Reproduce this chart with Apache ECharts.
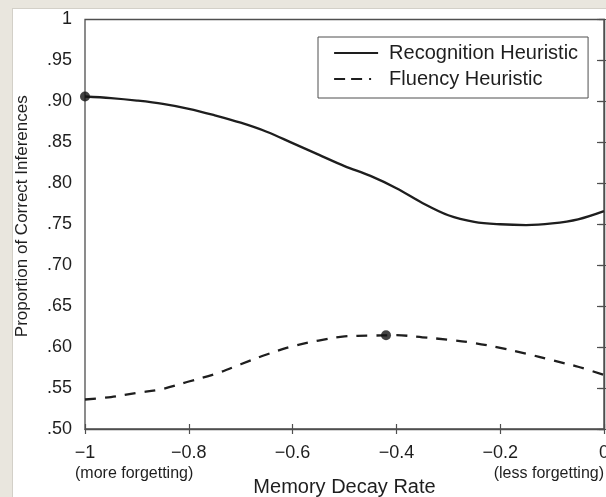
<!DOCTYPE html>
<html>
<head>
<meta charset="utf-8">
<script src="https://cdn.jsdelivr.net/npm/echarts@6/dist/echarts.min.js"></script>
<style>
  html, body { margin: 0; padding: 0; background: #e9e6de; }
  #wrap { position: relative; width: 606px; height: 497px; overflow: hidden; }
  #panel { position: absolute; left: 12px; top: 8px; width: 600px; height: 500px;
           background: #ffffff; border: 1px solid #d3d0c8; box-sizing: border-box; }
  #chart { position: absolute; left: 0; top: 0; width: 606px; height: 497px; }
</style>
</head>
<body>
<div id="wrap">
  <div id="panel"></div>
  <div id="chart"></div>
</div>
<script>
// Memory decay rate (x) and proportion of correct inferences for each heuristic
const decayRates = [-1, -0.95, -0.9, -0.85, -0.8, -0.75, -0.7, -0.65, -0.6, -0.55, -0.5,
                    -0.45, -0.4, -0.35, -0.3, -0.25, -0.2, -0.15, -0.1, -0.05, 0];
const recognition = [0.906, 0.904, 0.901, 0.897, 0.891, 0.883, 0.874, 0.863, 0.849, 0.835, 0.821,
                     0.809, 0.794, 0.776, 0.761, 0.753, 0.750, 0.749, 0.751, 0.756, 0.766];
const fluency = [0.536, 0.539, 0.544, 0.549, 0.558, 0.567, 0.579, 0.591, 0.601, 0.608, 0.613,
                 0.614, 0.6145, 0.612, 0.609, 0.605, 0.599, 0.592, 0.584, 0.576, 0.566];
// Highlighted optimum of each curve
const recognitionPeak = [-1, 0.906];
const fluencyPeak = [-0.42, 0.6145];
const seriesNames = ['Recognition Heuristic', 'Fluency Heuristic'];
const xTitle = 'Memory Decay Rate';
const yTitle = 'Proportion of Correct Inferences';
const xEndNotes = ['(more forgetting)', '(less forgetting)'];

const FONT = '"Liberation Sans", Arial, Helvetica, sans-serif';
const INK = '#1e1e1e';
const AXIS = '#4f4f4f';

const pairs = (xs, ys) => xs.map((x, i) => [x, ys[i]]);

const fmtX = v => {
  if (Math.abs(v) < 1e-9) return '0';
  if (Math.abs(v + 1) < 1e-9) return '\u22121';
  return (v < 0 ? '\u2212' : '') + Math.abs(v).toFixed(1);
};
const fmtY = v => (Math.abs(v - 1) < 1e-9 ? '1' : '.' + Math.round(v * 100).toString().padStart(2, '0'));

const chart = echarts.init(document.getElementById('chart'), null, { renderer: 'canvas' });

const xBase = { type: 'value', min: -1, max: 0, interval: 0.2 };
const yBase = { type: 'value', min: 0.5, max: 1, interval: 0.05 };

chart.setOption({
  backgroundColor: 'transparent',
  animation: false,
  textStyle: { fontFamily: FONT, color: INK },
  grid: { left: 85, top: 19.5, right: 2, bottom: 68, show: true,
          outerBoundsMode: 'none', containLabel: false,
          borderColor: AXIS, borderWidth: 1.3, backgroundColor: 'transparent' },
  legend: {
    orient: 'vertical', left: 318, top: 37,
    padding: [6, 10, 9, 15],
    borderColor: AXIS, borderWidth: 1,
    itemWidth: 44, itemHeight: 14, itemGap: 6,
    itemStyle: { color: 'rgba(0,0,0,0)', borderWidth: 0, opacity: 0 },
    lineStyle: { width: 2.2 },
    textStyle: { fontSize: 20, color: INK, fontFamily: FONT, padding: [0, 0, 0, 6] },
    data: [
      { name: seriesNames[0], lineStyle: { width: 2.2 } },
      { name: seriesNames[1], lineStyle: { width: 2.2, type: [11, 6, 11, 7, 2, 20] } }
    ]
  },
  xAxis: [
    Object.assign({}, xBase, {
      position: 'bottom',
      name: xTitle, nameLocation: 'middle', nameGap: 48,
      nameTextStyle: { fontSize: 20, color: INK, fontFamily: FONT },
      axisLine: { show: true, lineStyle: { color: AXIS, width: 1.3 } },
      axisTick: { show: true, inside: false, length: 5, lineStyle: { color: AXIS, width: 1.2 } },
      axisLabel: { fontSize: 18, color: INK, margin: 15, formatter: fmtX, showMinLabel: true, showMaxLabel: true },
      splitLine: { show: false }
    }),
    Object.assign({}, xBase, {
      position: 'bottom',
      axisLine: { show: false },
      axisTick: { show: true, inside: true, length: 5, lineStyle: { color: AXIS, width: 1.2 } },
      axisLabel: { show: false },
      splitLine: { show: false }
    })
  ],
  yAxis: [
    Object.assign({}, yBase, {
      position: 'left',
      name: yTitle, nameLocation: 'middle', nameGap: 54,
      nameTextStyle: { fontSize: 17, color: INK, fontFamily: FONT, padding: [0, 0, 0, 16] },
      axisLine: { show: true, lineStyle: { color: AXIS, width: 1.3 } },
      axisTick: { show: true, inside: false, length: 7, lineStyle: { color: AXIS, width: 1.2 } },
      axisLabel: { fontSize: 18, color: INK, margin: 13, formatter: fmtY },
      splitLine: { show: false }
    }),
    Object.assign({}, yBase, {
      position: 'left',
      axisLine: { show: false },
      axisTick: { show: true, inside: true, length: 5, lineStyle: { color: AXIS, width: 1.2 } },
      axisLabel: { show: false },
      splitLine: { show: false }
    }),
    Object.assign({}, yBase, {
      position: 'right',
      axisLine: { show: true, lineStyle: { color: AXIS, width: 1.3 } },
      axisTick: { show: true, inside: true, length: 5, lineStyle: { color: AXIS, width: 1.2 } },
      axisLabel: { show: false },
      splitLine: { show: false }
    })
  ],
  series: [
    {
      name: seriesNames[0], type: 'line', smooth: 0.35, symbol: 'none',
      data: pairs(decayRates, recognition),
      lineStyle: { color: INK, width: 2.3, type: 'solid' },
      itemStyle: { color: INK }, z: 3
    },
    {
      name: seriesNames[1], type: 'line', smooth: 0.35, symbol: 'none',
      data: pairs(decayRates, fluency),
      lineStyle: { color: INK, width: 2.3, type: [11, 9] },
      itemStyle: { color: INK }, z: 3
    },
    {
      name: 'optima', type: 'scatter', symbol: 'circle', symbolSize: 10,
      data: [recognitionPeak, fluencyPeak],
      itemStyle: { color: '#141414' }, z: 4, clip: false
    }
  ],
  graphic: [
    { type: 'text', left: 75, top: 466,
      style: { text: xEndNotes[0], font: '16px ' + FONT, fill: INK } },
    { type: 'text', right: 2, top: 466,
      style: { text: xEndNotes[1], font: '16px ' + FONT, fill: INK } }
  ]
});
</script>
</body>
</html>
